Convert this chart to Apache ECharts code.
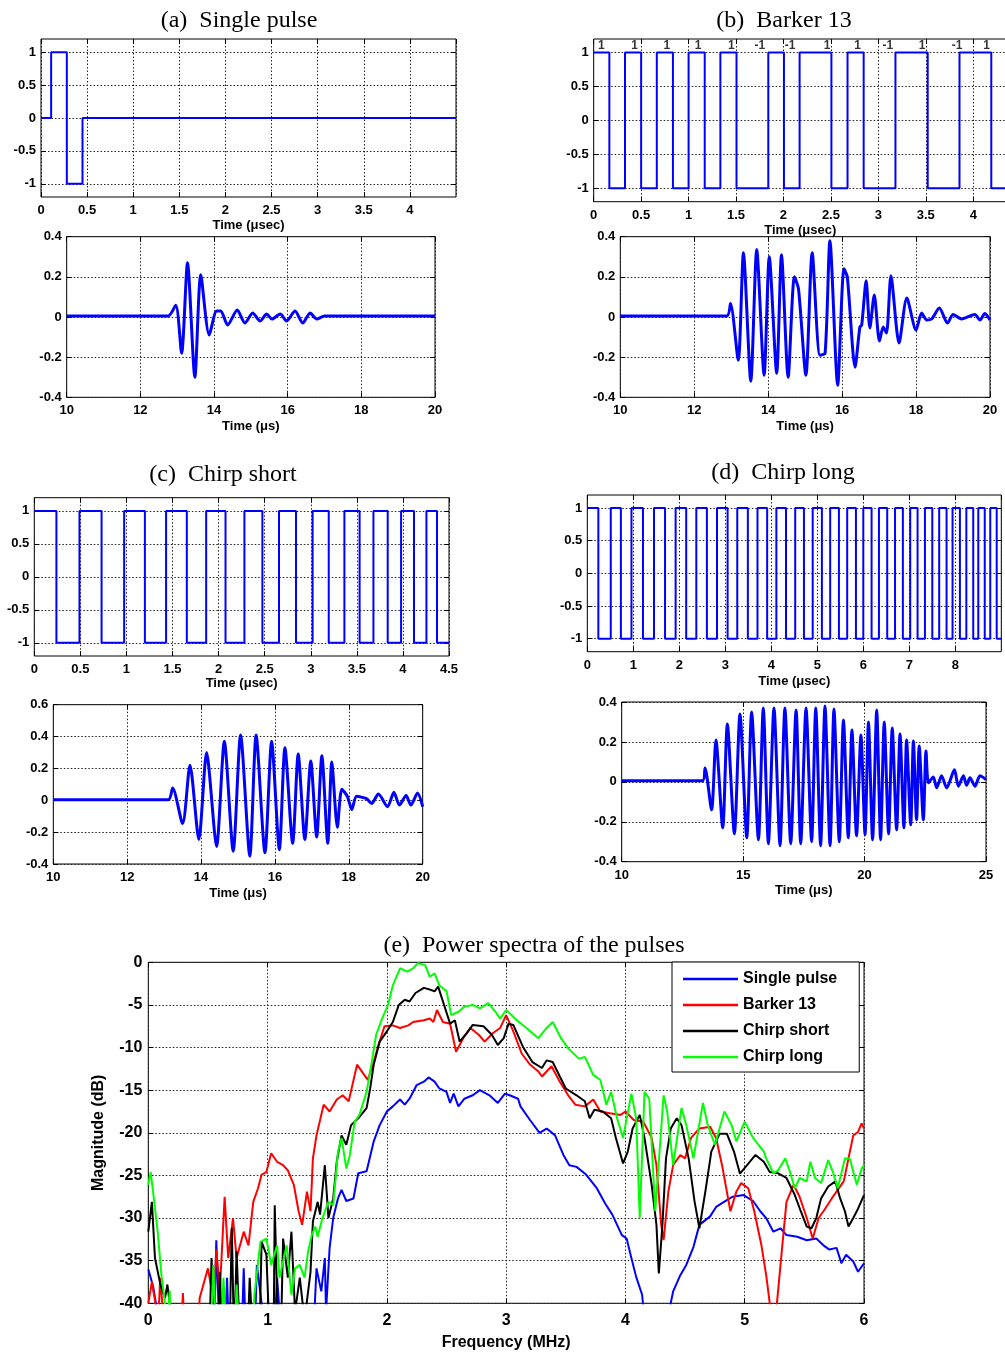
<!DOCTYPE html>
<html>
<head>
<meta charset="utf-8">
<script src="https://cdn.jsdelivr.net/npm/echarts@6/dist/echarts.min.js"></script>
<style>
  html, body { margin: 0; padding: 0; background: #fff; }
  #chart { width: 1005px; height: 1357px; }
</style>
</head>
<body>
<div id="chart"></div>
<script>
// ---------- transmitted pulses (time in µs) ----------
const singlePulseTimes  = [0, 0.11, 0.28, 0.45, 4.5];
const singlePulseLevels = [0, 1, -1, 0, 0];

const barkerCode       = [1, 1, 1, 1, 1, -1, -1, 1, 1, -1, 1, -1, 1];
const barkerLabelTimes = [0.08, 0.43, 0.77, 1.10, 1.45, 1.75, 2.07, 2.46, 2.78, 3.10, 3.46, 3.83, 4.14];
// switching instants of the bipolar drive (starts at +1, alternates)
const barkerEdges = [0.165, 0.33, 0.5, 0.665, 0.835, 1.0, 1.17, 1.335, 1.505, 1.84, 2.005, 2.17,
  2.505, 2.675, 2.845, 3.18, 3.52, 3.855, 4.19];
const chirpShortEdges = [0.24, 0.49, 0.73, 0.975, 1.20, 1.43, 1.655, 1.865, 2.075, 2.28, 2.475, 2.655,
  2.84, 3.02, 3.195, 3.365, 3.53, 3.68, 3.835, 3.98, 4.12, 4.255, 4.37];
const chirpLongEdges = [0.24, 0.51, 0.73, 0.96, 1.21, 1.45, 1.69, 1.92, 2.15, 2.37, 2.60, 2.82, 3.05,
  3.26, 3.49, 3.70, 3.91, 4.11, 4.32, 4.52, 4.71, 4.90, 5.10, 5.28, 5.47, 5.65, 5.84, 6.00, 6.18,
  6.34, 6.52, 6.69, 6.86, 7.02, 7.18, 7.34, 7.50, 7.65, 7.81, 7.94, 8.10, 8.24, 8.39, 8.50, 8.64,
  8.76, 8.90];

// ---------- received echoes [t (µs), amplitude] ----------
const echoSingle = [[10,0.005],[12.75,0.005],[12.96,0.059],[13.12,-0.18],[13.28,0.27],[13.48,-0.30],
  [13.64,0.21],[13.87,-0.09],[14.07,0.03],[14.18,0.03],[14.37,-0.04],[14.63,0.035],[14.84,-0.03],
  [15.05,0.02],[15.25,-0.02],[15.43,0.015],[15.57,-0.01],[15.80,0.015],[15.97,-0.02],[16.20,0.03],
  [16.41,-0.03],[16.61,0.02],[16.79,-0.01],[17.0,0.005],[20,0.005]];

const echoBarker = [[10,0.005],[12.88,0.005],[12.98,0.067],[13.19,-0.215],[13.33,0.32],[13.53,-0.32],
  [13.69,0.336],[13.89,-0.29],[14.03,0.30],[14.23,-0.28],[14.36,0.31],[14.54,-0.30],[14.71,0.20],
  [14.82,0.14],[15.02,-0.29],[15.19,0.32],[15.40,-0.19],[15.54,-0.18],[15.67,0.38],[15.88,-0.34],
  [16.05,0.24],[16.14,0.20],[16.35,-0.25],[16.48,-0.05],[16.53,-0.04],[16.65,0.18],[16.75,-0.055],
  [16.87,0.11],[17.01,-0.12],[17.11,-0.05],[17.20,-0.08],[17.32,0.205],[17.54,-0.13],[17.75,0.095],
  [18.0,-0.065],[18.15,0.02],[18.29,-0.015],[18.42,-0.01],[18.63,0.045],[18.85,-0.03],[19.0,0.012],
  [19.23,-0.01],[19.59,0.012],[19.73,-0.015],[19.86,0.017],[20,-0.015]];

const echoChirpShort = [[10,0.003],[13.11,0.003],[13.23,0.077],[13.50,-0.146],[13.70,0.22],[13.94,-0.246],
  [14.15,0.30],[14.42,-0.29],[14.63,0.37],[14.87,-0.32],[15.07,0.41],[15.32,-0.35],[15.49,0.41],
  [15.73,-0.33],[15.91,0.37],[16.12,-0.31],[16.27,0.33],[16.48,-0.27],[16.63,0.29],[16.81,-0.246],
  [16.97,0.246],[17.13,-0.23],[17.27,0.28],[17.43,-0.27],[17.54,0.24],[17.69,-0.17],[17.81,0.07],
  [17.96,0.025],[18.08,-0.058],[18.21,0.025],[18.48,0.01],[18.62,-0.02],[18.80,0.04],[19.05,-0.04],
  [19.22,0.05],[19.37,-0.03],[19.55,0.03],[19.68,-0.03],[19.86,0.045],[20,-0.04]];

const echoChirpLong = [[10,0.005],[13.33,0.005],[13.43,0.07],[13.70,-0.14],[13.88,0.21],[14.16,-0.23],
  [14.35,0.29],[14.64,-0.26],[14.87,0.34],[15.15,-0.28],[15.35,0.35],[15.63,-0.29],[15.83,0.37],
  [16.04,-0.31],[16.27,0.37],[16.52,-0.32],[16.72,0.37],[16.96,-0.31],[17.18,0.36],[17.37,-0.31],
  [17.59,0.37],[17.82,-0.30],[17.99,0.37],[18.19,-0.32],[18.37,0.38],[18.58,-0.32],[18.74,0.365],
  [18.96,-0.30],[19.13,0.31],[19.33,-0.28],[19.48,0.26],[19.67,-0.27],[19.85,0.235],[20.02,-0.265],
  [20.16,0.30],[20.33,-0.29],[20.50,0.36],[20.66,-0.29],[20.81,0.30],[20.99,-0.26],[21.14,0.27],
  [21.32,-0.24],[21.46,0.24],[21.62,-0.23],[21.73,0.21],[21.90,-0.215],[22.01,0.205],[22.14,-0.19],
  [22.25,0.18],[22.42,-0.19],[22.53,0.155],[22.63,-0.005],[22.83,0.024],[22.97,-0.03],[23.17,0.03],
  [23.38,-0.03],[23.70,0.06],[23.86,-0.022],[24.07,0.03],[24.20,-0.017],[24.34,0.02],[24.55,-0.022],
  [24.75,0.03],[25,0.012]];

// ---------- power spectra [f (MHz), dB] ----------
const specSingle = [[0,-36],[0.02,-37],[0.04,-38],[0.064,-40],[0.07,-45],[0.55,-45],[0.57,-32.6],[0.6,-45],
  [0.64,-45],[0.66,-37],[0.68,-45],[0.78,-45],[0.8,-35.9],[0.82,-45],[0.89,-45],[0.91,-35.5],[0.95,-40],
  [1.05,-45],[1.08,-37],[1.12,-45],[1.38,-45],[1.41,-35.9],[1.45,-38.6],[1.48,-34.7],[1.49,-41],
  [1.52,-33.5],[1.55,-30],[1.59,-27.7],[1.62,-26.7],[1.66,-28],[1.72,-27.7],[1.76,-24.75],[1.83,-24.5],
  [1.89,-21],[1.94,-19.1],[2.0,-17.5],[2.05,-16.9],[2.11,-16.1],[2.15,-16.7],[2.19,-16],[2.25,-14.4],
  [2.31,-14],[2.35,-13.5],[2.40,-14],[2.44,-14.8],[2.50,-15.2],[2.53,-16.5],[2.56,-15.4],[2.60,-16.9],
  [2.65,-16],[2.72,-15.6],[2.78,-15],[2.86,-15.6],[2.93,-16.5],[2.99,-15.4],[3.03,-15.6],[3.10,-16],
  [3.12,-16.9],[3.2,-18.5],[3.28,-20],[3.34,-19.5],[3.41,-20.3],[3.48,-22.6],[3.53,-23.8],[3.59,-24],
  [3.67,-24.9],[3.76,-26.5],[3.83,-28.3],[3.89,-29.6],[3.97,-32],[4.01,-32.4],[4.05,-34.7],[4.09,-36.9],
  [4.14,-39],[4.16,-42],[4.35,-42],[4.40,-38.6],[4.46,-36.7],[4.51,-35.5],[4.57,-33.4],[4.62,-30.8],
  [4.71,-29.8],[4.76,-28.7],[4.85,-27.9],[4.90,-27.5],[4.99,-27.3],[5.07,-28],[5.13,-29.2],[5.18,-30],
  [5.24,-31.6],[5.30,-31.2],[5.35,-32],[5.44,-32.2],[5.52,-32.6],[5.60,-32.4],[5.66,-33.2],[5.71,-33.7],
  [5.77,-33.5],[5.81,-35.3],[5.85,-34.3],[5.91,-35.1],[5.95,-36.3],[6.0,-35.3]];

const specBarker = [[0,-40],[0.03,-37.5],[0.06,-40],[0.08,-45],[0.09,-40],[0.1,-37],[0.12,-40.5],[0.27,-45],
  [0.29,-38.8],[0.31,-45],[0.42,-45],[0.43,-39.4],[0.5,-35.9],[0.55,-40],[0.57,-33.7],[0.60,-38.5],
  [0.64,-27.5],[0.67,-34.7],[0.71,-30],[0.74,-34.7],[0.80,-31.6],[0.84,-33.2],[0.88,-28.1],[0.92,-26.5],
  [0.95,-24.9],[0.99,-24.6],[1.03,-22.4],[1.08,-23.4],[1.13,-23.8],[1.17,-24.4],[1.22,-26.1],[1.26,-29.2],
  [1.29,-30.8],[1.33,-26.9],[1.36,-29.2],[1.38,-23],[1.41,-20.3],[1.47,-16.7],[1.52,-17.5],[1.58,-16.1],
  [1.63,-15.6],[1.68,-16.3],[1.75,-12],[1.80,-13],[1.84,-13.8],[1.89,-11.7],[1.93,-9.7],[1.98,-7.5],
  [2.05,-7.4],[2.11,-7.7],[2.18,-7.4],[2.22,-7.0],[2.31,-6.8],[2.36,-6.6],[2.39,-7],[2.42,-5.6],[2.47,-7],
  [2.53,-7.2],[2.58,-10.5],[2.64,-8.9],[2.70,-7.7],[2.77,-8.5],[2.82,-9.3],[2.89,-8.3],[2.95,-7.7],
  [3.0,-6.2],[3.06,-8.1],[3.13,-10.7],[3.20,-12],[3.27,-12.8],[3.30,-13.4],[3.38,-12.2],[3.45,-14],
  [3.52,-15.6],[3.58,-16.7],[3.66,-16.9],[3.73,-16.1],[3.79,-17.5],[3.87,-17.7],[3.96,-17.9],[4.0,-17.5],
  [4.07,-18.5],[4.15,-18.7],[4.22,-20.6],[4.26,-23.8],[4.30,-30.8],[4.32,-32.6],[4.36,-26.9],[4.40,-23.8],
  [4.46,-22.6],[4.50,-23],[4.55,-20.6],[4.62,-19.5],[4.71,-19.3],[4.76,-20.6],[4.81,-23.8],[4.88,-29.2],
  [4.93,-26.9],[4.97,-25.9],[5.03,-26.5],[5.08,-29.2],[5.14,-33.2],[5.18,-36.7],[5.21,-40],[5.24,-44],
  [5.27,-40],[5.31,-34],[5.35,-28.1],[5.41,-26.1],[5.46,-27.5],[5.52,-30],[5.57,-32.4],[5.62,-30],
  [5.67,-29],[5.73,-27.7],[5.77,-26.9],[5.83,-25.7],[5.87,-23],[5.91,-20.3],[5.95,-19.9],[5.98,-18.9],
  [6.0,-19.5]];

const specChirpShort = [[0,-31.6],[0.03,-28.1],[0.056,-34.7],[0.1,-37.7],[0.14,-39.4],[0.16,-37.8],[0.18,-40],
  [0.2,-45],[0.51,-45],[0.53,-34.7],[0.55,-42],[0.58,-45],[0.60,-36.3],[0.62,-45],[0.68,-45],[0.70,-31.2],
  [0.72,-45],[0.74,-33.9],[0.77,-45],[0.83,-45],[0.85,-37],[0.88,-45],[0.93,-45],[0.95,-32.8],[0.99,-34.3],
  [1.02,-45],[1.05,-45],[1.06,-28.5],[1.09,-45],[1.11,-45],[1.13,-32.4],[1.17,-37],[1.20,-31.6],[1.23,-41],
  [1.27,-37],[1.31,-42],[1.36,-36.3],[1.38,-30.4],[1.42,-28.1],[1.44,-29.6],[1.48,-23.8],[1.51,-30],
  [1.55,-27.7],[1.58,-23.4],[1.62,-20.3],[1.66,-21.4],[1.70,-19.1],[1.76,-18.3],[1.83,-17.1],[1.86,-14.8],
  [1.89,-12],[1.94,-9.3],[2.0,-8.1],[2.05,-7],[2.10,-5],[2.15,-4.4],[2.19,-4.6],[2.24,-3.6],[2.31,-3.0],
  [2.36,-3.2],[2.40,-3.4],[2.43,-2.85],[2.47,-4.6],[2.53,-7.2],[2.57,-6.8],[2.61,-9.3],[2.67,-8.3],
  [2.72,-7.35],[2.81,-7.5],[2.88,-8.5],[2.93,-9.7],[2.98,-8.9],[3.02,-7.2],[3.06,-7.35],[3.14,-9.9],
  [3.22,-11.7],[3.30,-12.4],[3.34,-11.5],[3.39,-11.7],[3.45,-13.4],[3.50,-14.8],[3.59,-15.6],[3.66,-16.3],
  [3.70,-18.3],[3.74,-17.3],[3.81,-17.5],[3.88,-18.3],[3.92,-20.6],[3.98,-23.6],[4.02,-22.2],[4.06,-19.5],
  [4.12,-17.9],[4.16,-20.6],[4.22,-26.1],[4.26,-30.8],[4.28,-36.5],[4.31,-30.8],[4.34,-23],[4.38,-19.5],
  [4.43,-18.3],[4.47,-19.1],[4.53,-23],[4.58,-28.1],[4.62,-31.2],[4.67,-26.9],[4.72,-22.2],[4.79,-20.1],
  [4.85,-20.1],[4.91,-22.2],[4.96,-24.8],[5.02,-23.8],[5.09,-22.6],[5.16,-23.4],[5.21,-24.6],[5.28,-24.75],
  [5.35,-25.3],[5.42,-27.3],[5.47,-29.2],[5.52,-31],[5.56,-31.2],[5.60,-30],[5.64,-27.7],[5.70,-26.3],
  [5.76,-25.7],[5.80,-27.7],[5.84,-29.2],[5.87,-31],[5.91,-30],[5.95,-28.9],[6.0,-27.3]];

const specChirpLong = [[0,-26.1],[0.02,-24.6],[0.04,-26.9],[0.08,-31.8],[0.11,-36.7],[0.14,-40],[0.16,-42],
  [0.18,-38.5],[0.19,-45],[0.52,-45],[0.545,-35.5],[0.57,-45],[0.61,-45],[0.63,-37],[0.66,-45],[0.72,-45],
  [0.74,-37.8],[0.77,-45],[0.87,-45],[0.89,-39],[0.94,-32.8],[0.99,-32.4],[1.03,-35.5],[1.08,-33.2],
  [1.10,-37],[1.16,-33.2],[1.20,-39],[1.23,-35.9],[1.27,-35.5],[1.31,-37],[1.34,-33.9],[1.37,-32],
  [1.40,-31],[1.42,-32.2],[1.46,-30],[1.51,-28.1],[1.55,-28.5],[1.59,-22.2],[1.62,-20.6],[1.66,-24.2],
  [1.69,-22.6],[1.73,-18.7],[1.77,-17.9],[1.83,-15.2],[1.87,-12],[1.91,-8.5],[1.96,-6.6],[2.01,-5],
  [2.05,-2.7],[2.11,-0.7],[2.17,-1.1],[2.22,-0.7],[2.26,-0.1],[2.32,-0.3],[2.36,-1.7],[2.40,-1.3],
  [2.44,-2.7],[2.50,-3.4],[2.54,-6.2],[2.60,-5.8],[2.65,-5.2],[2.72,-5.0],[2.78,-5.4],[2.85,-4.8],
  [2.91,-5.8],[2.95,-6.6],[3.0,-5.6],[3.09,-6.8],[3.17,-7.7],[3.27,-8.9],[3.34,-7.7],[3.39,-7],[3.46,-8.9],
  [3.52,-10.1],[3.61,-11.3],[3.66,-11.1],[3.73,-13.2],[3.79,-13.8],[3.84,-16.7],[3.88,-15.2],[3.93,-18.3],
  [3.98,-20.6],[4.05,-15.4],[4.09,-18.3],[4.12,-30],[4.16,-15.2],[4.20,-16],[4.25,-29.2],[4.32,-15.6],
  [4.35,-17.5],[4.40,-23.8],[4.47,-17.1],[4.51,-19.1],[4.57,-23],[4.65,-16.5],[4.69,-19.1],[4.75,-21.4],
  [4.83,-17.5],[4.89,-19.1],[4.93,-21],[5.0,-18.7],[5.07,-20.6],[5.16,-22.2],[5.18,-23],[5.24,-24.75],
  [5.28,-24.4],[5.34,-23],[5.38,-24.6],[5.42,-26.5],[5.46,-25.3],[5.52,-25.7],[5.55,-23.4],[5.59,-25.3],
  [5.64,-25.9],[5.70,-23.2],[5.74,-24.6],[5.78,-26.5],[5.84,-23],[5.88,-23],[5.94,-26.1],[5.98,-24.2],
  [6.0,-23.8]];

const legendNames = ['Single pulse', 'Barker 13', 'Chirp short', 'Chirp long'];
const spectrumColors = ['#0000ff', '#ff0000', '#000000', '#00ff00'];

// ---------- helpers ----------
const SANS = '"Liberation Sans", Arial, Helvetica, sans-serif';
const SERIF = '"Liberation Serif", "Times New Roman", serif';
const BLUE = '#0000ff';

// bipolar square wave: starts at +1 and flips at every edge
function squareWave(edges, tEnd) {
  const pts = [[0, 1]];
  let lvl = 1;
  edges.forEach(t => { lvl = -lvl; pts.push([t, lvl]); });
  pts.push([tEnd, lvl]);
  return pts;
}

const grids = [], xAxes = [], yAxes = [], series = [];

function addPanel(p) {
  const g = grids.length;
  const fs = p.fontSize || 13;
  grids.push({ left: p.left, top: p.top, width: p.width, height: p.height,
    outerBoundsMode: 'none', containLabel: false,
    show: true, borderColor: '#000', borderWidth: 1, backgroundColor: 'transparent' });

  const tickStyle = { show: true, inside: true, length: 5, lineStyle: { color: '#000', width: 1 } };
  const gridLine = { show: true, lineStyle: { color: '#222', type: [1.5, 2], width: 1 } };
  const labelStyle = { fontFamily: SANS, fontWeight: 'bold', fontSize: fs, color: '#000' };
  const noLine = { show: false, onZero: false };

  const xBase = { type: 'value', gridIndex: g, min: p.x.min, max: p.x.max, interval: p.x.interval,
    axisLine: noLine };
  const yBase = { type: 'value', gridIndex: g, min: p.y.min, max: p.y.max, interval: p.y.interval,
    axisLine: noLine };
  const yTick = p.y.custom ? Object.assign({}, tickStyle, { customValues: p.y.custom }) : tickStyle;

  const xi = xAxes.length;
  xAxes.push(Object.assign({}, xBase, {
    position: 'bottom',
    axisTick: tickStyle,
    splitLine: gridLine,
    axisLabel: Object.assign({ margin: p.x.margin || 7, showMaxLabel: p.x.showMax !== false,
      showMinLabel: true }, labelStyle),
    name: p.x.name, nameLocation: 'middle', nameGap: p.x.nameGap,
    nameTextStyle: Object.assign({ padding: p.x.namePad || 0 }, labelStyle)
  }));
  xAxes.push(Object.assign({}, xBase, {
    position: 'top', axisTick: tickStyle, axisLabel: { show: false }, splitLine: { show: false }
  }));

  const yi = yAxes.length;
  const yLabel = Object.assign({ margin: p.y.margin || 5 }, labelStyle);
  if (p.y.custom) yLabel.customValues = p.y.custom;
  yAxes.push(Object.assign({}, yBase, {
    position: 'left',
    axisTick: yTick,
    splitLine: gridLine,
    axisLabel: yLabel,
    name: p.y.name, nameLocation: 'middle', nameGap: p.y.nameGap, nameRotate: 90,
    nameTextStyle: labelStyle
  }));
  yAxes.push(Object.assign({}, yBase, {
    position: 'right', axisTick: yTick, axisLabel: { show: false }, splitLine: { show: false }
  }));
  return { x: xi, y: yi };
}

function addLine(ax, data, opts) {
  series.push(Object.assign({
    type: 'line', xAxisIndex: ax.x, yAxisIndex: ax.y, data: data,
    symbol: 'none', showSymbol: false, clip: true, animation: false,
    lineStyle: { color: BLUE, width: 2 }, itemStyle: { color: BLUE }
  }, opts || {}));
}

const pulseY = { min: -1.2, max: 1.2, custom: [-1, -0.5, 0, 0.5, 1] };
const echoY = { min: -0.4, max: 0.4, interval: 0.2 };
const echoStyle = { smooth: 0.25, lineStyle: { color: BLUE, width: 3 } };

// (a) single pulse
const aTop = addPanel({ left: 41, top: 39, width: 415, height: 158,
  x: { min: 0, max: 4.5, interval: 0.5, showMax: false, name: 'Time (μsec)', nameGap: 22 }, y: pulseY });
const aBot = addPanel({ left: 66.7, top: 236.7, width: 368.3, height: 160.6,
  x: { min: 10, max: 20, interval: 2, name: 'Time (μs)', nameGap: 23 }, y: echoY });
// (b) Barker 13
const bTop = addPanel({ left: 593.7, top: 39, width: 427, height: 162.7,
  x: { min: 0, max: 4.5, interval: 0.5, name: 'Time (μsec)', nameGap: 22, namePad: [0, 14, 0, 0] }, y: pulseY });
const bBot = addPanel({ left: 620.3, top: 236.7, width: 369.7, height: 160.6,
  x: { min: 10, max: 20, interval: 2, name: 'Time (μs)', nameGap: 23 }, y: echoY });
// (c) chirp short
const cTop = addPanel({ left: 34.3, top: 497.7, width: 414.7, height: 158.3,
  x: { min: 0, max: 4.5, interval: 0.5, name: 'Time (μsec)', nameGap: 21 }, y: pulseY });
const cBot = addPanel({ left: 53.3, top: 704.7, width: 369.4, height: 159.3,
  x: { min: 10, max: 20, interval: 2, name: 'Time (μs)', nameGap: 23 }, y: { min: -0.4, max: 0.6, interval: 0.2 } });
// (d) chirp long
const dTop = addPanel({ left: 587.3, top: 495, width: 414, height: 156.7,
  x: { min: 0, max: 9, interval: 1, showMax: false, name: 'Time (μsec)', nameGap: 23 }, y: pulseY });
const dBot = addPanel({ left: 621.7, top: 702, width: 364.3, height: 159.7,
  x: { min: 10, max: 25, interval: 5, name: 'Time (μs)', nameGap: 22 }, y: echoY });
// (e) spectra
const ePanel = addPanel({ left: 148.3, top: 962.3, width: 715.7, height: 341, fontSize: 16,
  x: { min: 0, max: 6, interval: 1, name: 'Frequency (MHz)', nameGap: 31, margin: 9 },
  y: { min: -40, max: 0, interval: 5, name: 'Magnitude (dB)', nameGap: 42, margin: 6 } });

addLine(aTop, singlePulseTimes.map((t, i) => [t, singlePulseLevels[i]]), { step: 'end' });
addLine(aBot, echoSingle, echoStyle);

addLine(bTop, squareWave(barkerEdges, 4.5), { step: 'end' });
series.push({
  type: 'scatter', xAxisIndex: bTop.x, yAxisIndex: bTop.y, animation: false,
  symbolSize: 1, itemStyle: { color: 'rgba(0,0,0,0)' }, z: 10,
  data: barkerLabelTimes.map((t, i) => [t, 1.1, barkerCode[i]]),
  label: { show: true, position: 'inside', formatter: p => String(p.value[2]),
    fontFamily: SANS, fontWeight: 'bold', fontSize: 12, color: '#000' }
});
addLine(bBot, echoBarker, echoStyle);

addLine(cTop, squareWave(chirpShortEdges, 4.5), { step: 'end' });
addLine(cBot, echoChirpShort, echoStyle);

addLine(dTop, squareWave(chirpLongEdges, 9), { step: 'end' });
addLine(dBot, echoChirpLong, echoStyle);

[specSingle, specBarker, specChirpShort, specChirpLong].forEach((d, i) => {
  addLine(ePanel, d, { name: legendNames[i],
    lineStyle: { color: spectrumColors[i], width: 2 }, itemStyle: { color: spectrumColors[i] } });
});

function title(text, x, y) {
  return { type: 'text', x: x, y: y, z: 100,
    style: { text: text, fill: '#000', font: '24px ' + SERIF, textAlign: 'center', textVerticalAlign: 'middle' } };
}

const chart = echarts.init(document.getElementById('chart'), null, { renderer: 'canvas' });
chart.setOption({
  animation: false,
  backgroundColor: '#fff',
  grid: grids,
  xAxis: xAxes,
  yAxis: yAxes,
  series: series,
  legend: {
    data: legendNames, left: 672, top: 962, orient: 'vertical',
    icon: 'rect', itemWidth: 55, itemHeight: 2.5,
    padding: [8, 22, 6, 11], itemGap: 8,
    borderColor: '#000', borderWidth: 1, backgroundColor: '#fff',
    textStyle: { fontFamily: SANS, fontWeight: 'bold', fontSize: 16, color: '#000', lineHeight: 18 }
  },
  graphic: [
    title('(a)  Single pulse', 239, 21),
    title('(b)  Barker 13', 784, 21),
    title('(c)  Chirp short', 223, 475),
    title('(d)  Chirp long', 783, 473),
    title('(e)  Power spectra of the pulses', 534, 946)
  ]
});
</script>
</body>
</html>
